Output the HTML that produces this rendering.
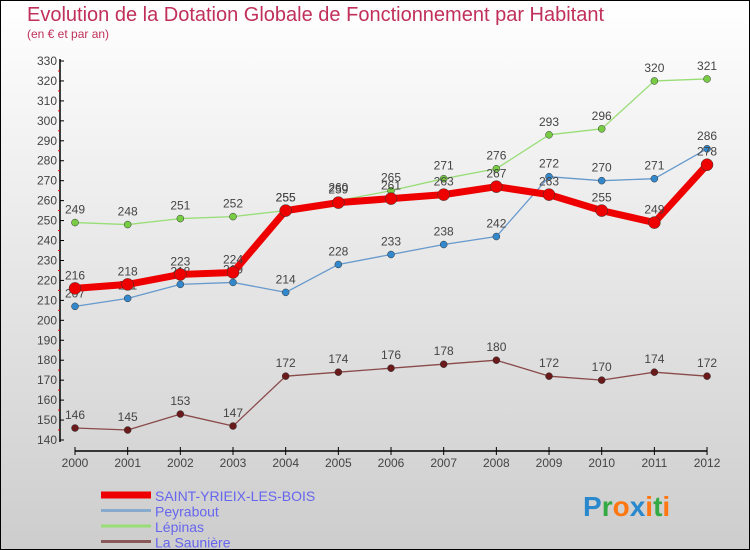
<!DOCTYPE html>
<html><head><meta charset="utf-8"><style>
body{margin:0;}
#wrap{position:relative;width:748px;height:548px;border:1px solid #000;background:linear-gradient(#ffffff,#cdcdcd);font-family:"Liberation Sans",sans-serif;overflow:hidden;}
.t{position:absolute;color:#c0305a;}
</style></head><body>
<div id="wrap">
<div class="t" style="left:26px;top:3px;font-size:20px;">Evolution de la Dotation Globale de Fonctionnement par Habitant</div>
<div class="t" style="left:26px;top:26px;font-size:12px;">(en € et par an)</div>
<svg id="chart" width="748" height="548" style="position:absolute;left:0;top:0"></svg>
</div>
<script>
const years=["2000","2001","2002","2003","2004","2005","2006","2007","2008","2009","2010","2011","2012"];
const saint=[216,218,223,224,255,259,261,263,267,263,255,249,278];
const peyrabout=[207,211,218,219,214,228,233,238,242,272,270,271,286];
const lepinas=[249,248,251,252,255,260,265,271,276,293,296,320,321];
const sauniere=[146,145,153,147,172,174,176,178,180,172,170,174,172];
const yTicks=[140,150,160,170,180,190,200,210,220,230,240,250,260,270,280,290,300,310,320,330];
const legendNames=["SAINT-YRIEIX-LES-BOIS","Peyrabout","Lépinas","La Saunière"];
const NS="http://www.w3.org/2000/svg";
const svg=document.getElementById('chart');
const X=i=>74+i*52.67;
const Y=v=>439-(v-140)*(379/190);
function mk(tag,attrs,parent){const e=document.createElementNS(NS,tag);for(const k in attrs)e.setAttribute(k,attrs[k]);(parent||svg).appendChild(e);return e;}
// axes
let ax=mk('line',{x1:59,y1:Y(330)-2,x2:59,y2:Y(140)+2,stroke:'#000','stroke-width':1.5});


yTicks.forEach(v=>{
 mk('line',{x1:59,x2:63,y1:Y(v),y2:Y(v),stroke:'#000'});
 if(v<330){mk('line',{x1:57,x2:59,y1:Y(v+5),y2:Y(v+5),stroke:'#e00'});}
 const t=mk('text',{x:56,y:Y(v)+4,'text-anchor':'end','font-size':12,fill:'#444','font-family':'Liberation Sans'});
 t.textContent=v;
 
 
});
let xa=mk('line',{x1:X(0),y1:450,x2:X(12),y2:450,stroke:'#000','stroke-width':1.5});


years.forEach((y,i)=>{
 mk('line',{x1:X(i),x2:X(i),y1:446,y2:454,stroke:'#000'});
 const t=mk('text',{x:X(i),y:466,'text-anchor':'middle','font-size':12,fill:'#444','font-family':'Liberation Sans'});
 t.textContent=y;
 
 
});
function series(data,color,w,r,name,dot){
 const g=mk('g',{});
 
 
 mk('polyline',{points:data.map((v,i)=>X(i)+','+Y(v)).join(' '),fill:'none',stroke:color,'stroke-width':w,'stroke-linejoin':'round'},g);
 data.forEach((v,i)=>{
  const c=mk('circle',{cx:X(i),cy:Y(v),r:r,fill:dot,stroke:'#333','stroke-width':0.5},g);
  
  
  const t=mk('text',{x:X(i),y:Y(v)-9,'text-anchor':'middle','font-size':12,fill:'#444','font-family':'Liberation Sans'},g);
  t.textContent=v;
  
  
 });
}
series(sauniere,'#8a4a4a',1.3,3.5,'la-sauniere-series','#6a1a1a');
series(lepinas,'#99dd77',1.3,3.5,'lepinas-series','#77cc44');
series(peyrabout,'#6699cc',1.3,3.5,'peyrabout-series','#3388cc');
series(saint,'#ee0000',7,6,'saint-yrieix-series','#ee0000');
// legend
const lc=['#ee0000','#88aacc','#99dd77','#8a5a5a'];const lw=[7,3,3,3];
legendNames.forEach((n,i)=>{
 const y=494+i*15.5;
 const l=mk('line',{x1:100,x2:150,y1:y,y2:y,stroke:lc[i],'stroke-width':lw[i]});
 
 
 const t=mk('text',{x:154,y:y+6,'font-size':14,fill:'#6666ee','font-family':'Liberation Sans'});
 t.textContent=n;
 
 
});
// logo
const logo=mk('text',{x:582,y:515,'font-size':28,'font-family':'Liberation Sans','font-weight':'bold'});


[['P','#2a88cc'],['r','#33aa44'],['o','#ff7711'],['x','#2a88cc'],['i','#ff7711'],['t','#33aa44'],['i','#ff7711']].forEach(([c,f])=>{const s=mk('tspan',{fill:f},logo);s.textContent=c;});
</script>
</body></html>
